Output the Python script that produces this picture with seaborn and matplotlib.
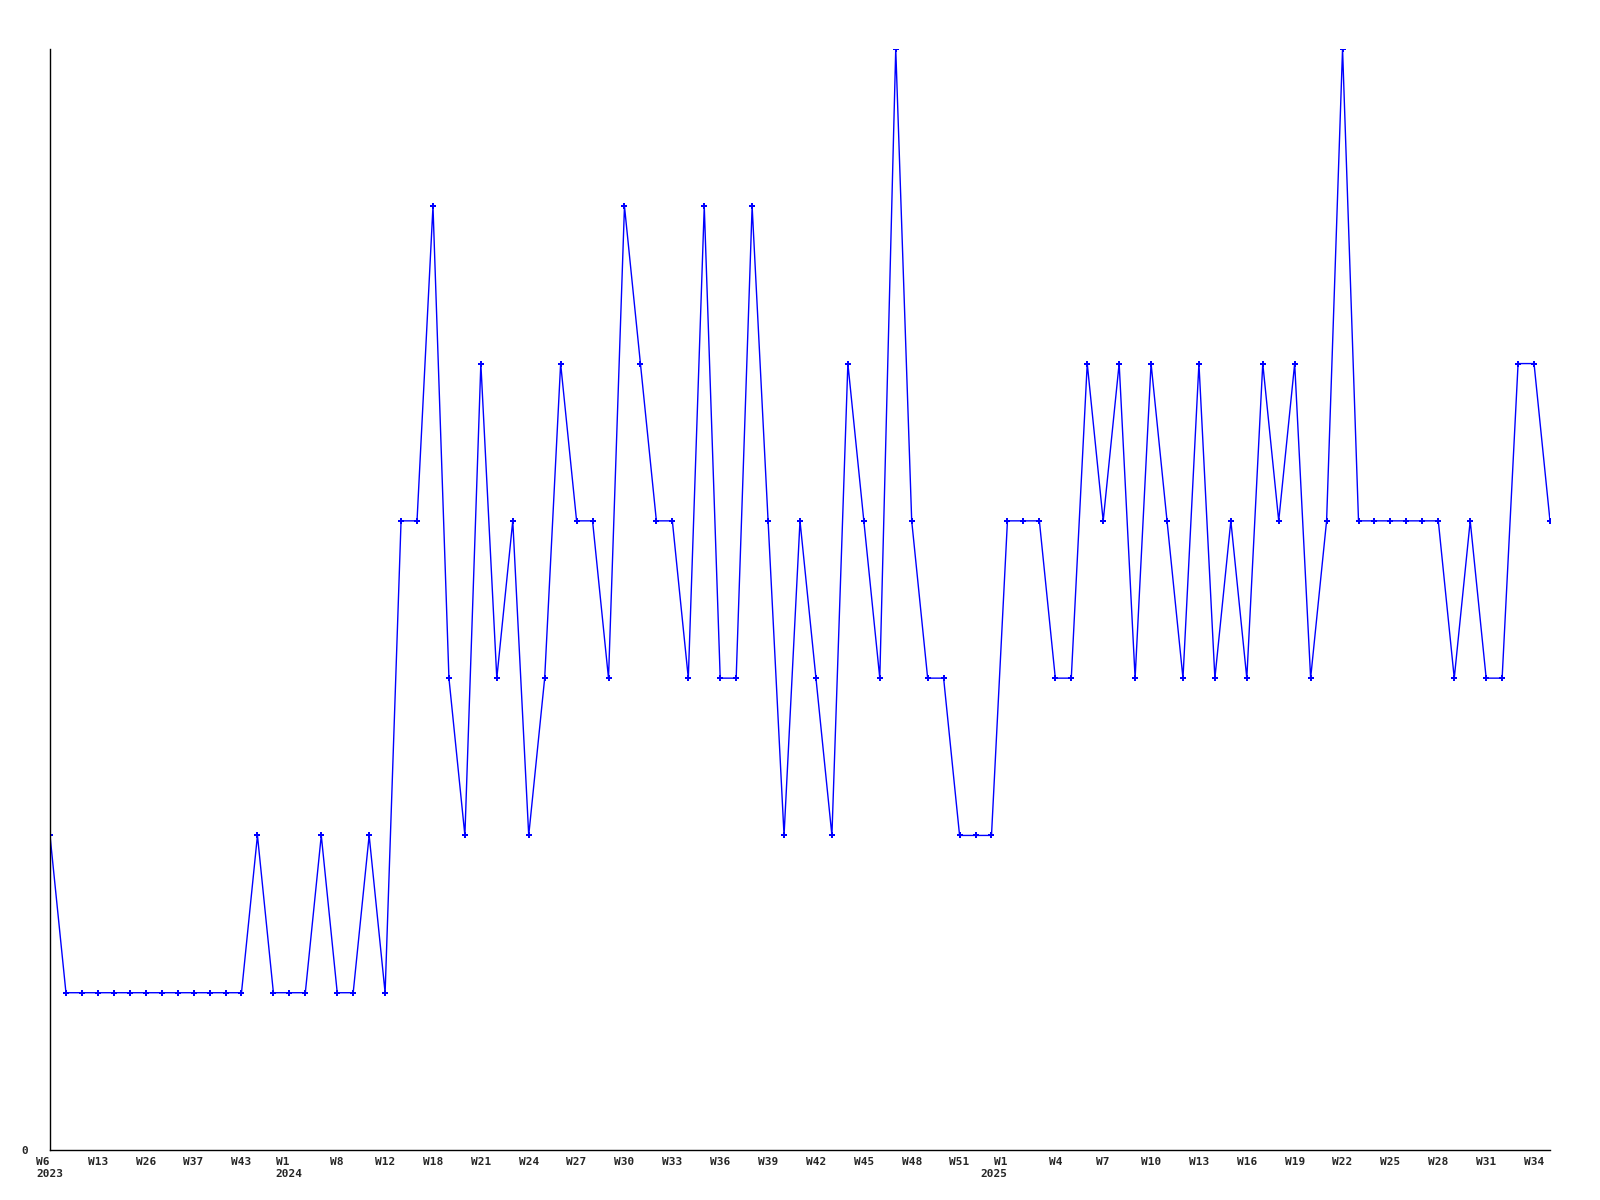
import matplotlib
matplotlib.use("Agg")
import matplotlib.pyplot as plt
import seaborn as sns
import pandas as pd

# 週ごとの値 (95点)
values = [2, 1, 1, 1, 1, 1, 1, 1, 1, 1, 1, 1, 1, 2, 1, 1, 1, 2, 1, 1,
          2, 1, 4, 4, 6, 3, 2, 5, 3, 4, 2, 3, 5, 4, 4, 3, 6, 5, 4, 4,
          3, 6, 3, 3, 6, 4, 2, 4, 3, 2, 5, 4, 3, 7, 4, 3, 3, 2, 2, 2,
          4, 4, 4, 3, 3, 5, 4, 5, 3, 5, 4, 3, 5, 3, 4, 3, 5, 4, 5, 3,
          4, 7, 4, 4, 4, 4, 4, 4, 3, 4, 3, 3, 5, 5, 4]

# 3点ごとのラベル
tick_labels = ["W6\n2023", "W13", "W26", "W37", "W43", "W1\n2024", "W8", "W12",
               "W18", "W21", "W24", "W27", "W30", "W33", "W36", "W39", "W42",
               "W45", "W48", "W51", "W1\n2025", "W4", "W7", "W10", "W13", "W16",
               "W19", "W22", "W25", "W28", "W31", "W34"]
tick_step = 3

df = pd.DataFrame({"idx": range(len(values)), "value": values})

sns.set_theme(style="white")
plt.rcParams['font.family'] = ['DejaVu Sans Mono']

fig = plt.figure(figsize=(16, 12), dpi=100)
ax = fig.add_axes([50/1600, 50/1200, 1500/1600, 1101/1200])

sns.lineplot(data=df, x="idx", y="value", ax=ax, color=(0, 0, 1),
             linewidth=1.0, marker="P", markersize=4.5, markeredgewidth=0)

ax.set_xlim(0, len(values) - 1)
ax.set_ylim(0, max(values))

ax.set_xticks(range(0, len(values), tick_step)[:len(tick_labels)])
ax.set_xticklabels(tick_labels, fontsize=8, fontweight="bold",
                   ha="center", multialignment="left")
# 2025 の年ラベルは右寄せ
for t in ax.get_xticklabels():
    if t.get_text().endswith("2025"):
        t.set_ha("right")
        t.set_multialignment("right")
ax.set_yticks([0])
ax.set_yticklabels(["0"], fontsize=8, fontweight="bold")
ax.tick_params(axis="x", length=0, pad=5)
ax.tick_params(axis="y", length=0, pad=16)

ax.set_xlabel("")
ax.set_ylabel("")
for s in ["top", "right"]:
    ax.spines[s].set_visible(False)
for s in ["left", "bottom"]:
    ax.spines[s].set_color("black")
    ax.spines[s].set_linewidth(1.0)

fig.savefig("out.png", dpi=100)
